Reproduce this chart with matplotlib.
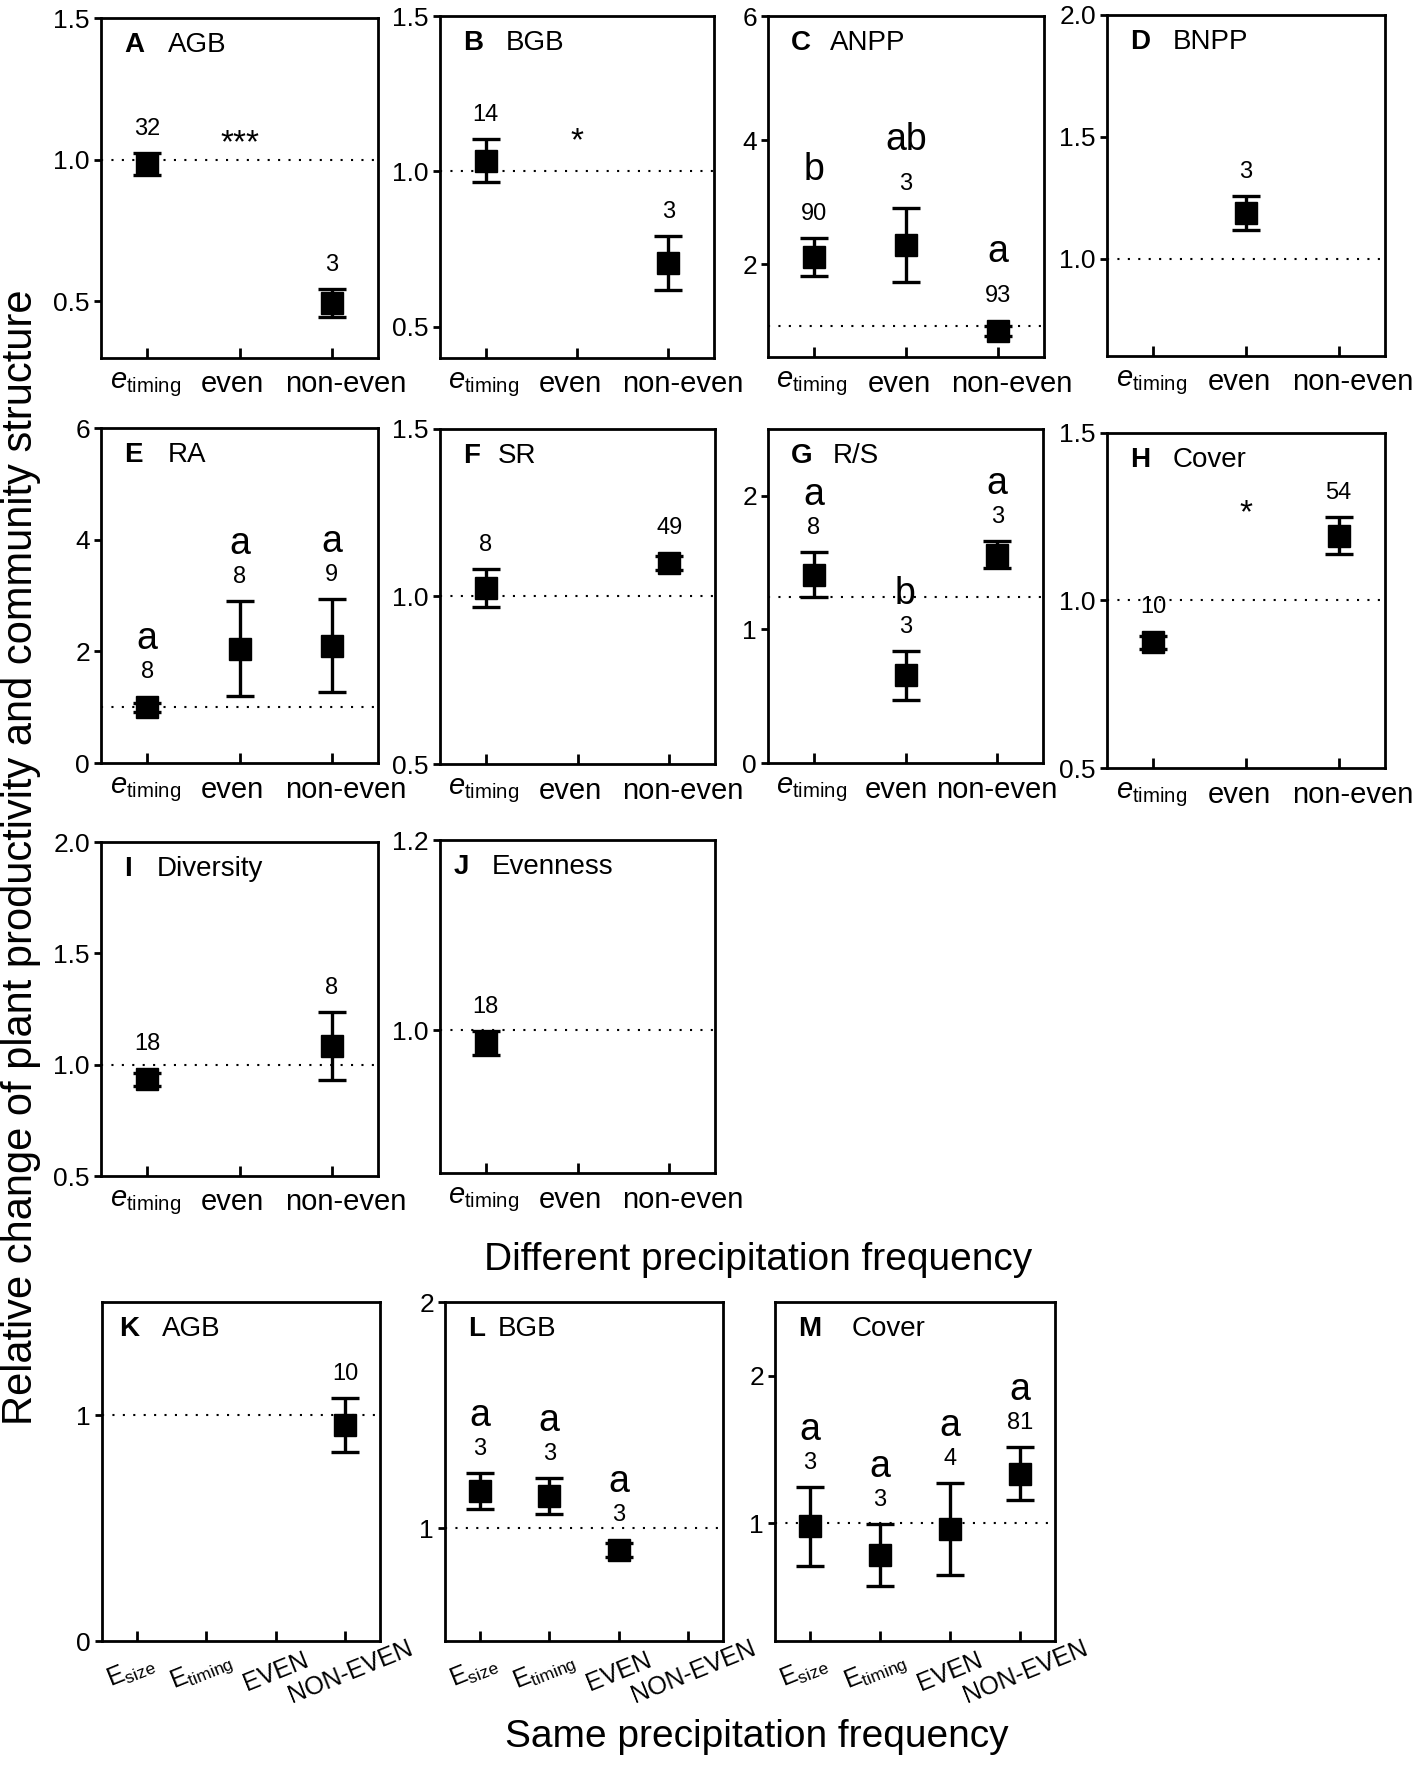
import numpy as np
import matplotlib
matplotlib.use('Agg')
import matplotlib.pyplot as plt
from matplotlib.transforms import ScaledTranslation

plt.rcParams['font.family'] = ['Liberation Sans', 'DejaVu Sans']
plt.rcParams['mathtext.fontset'] = 'custom'
plt.rcParams['mathtext.rm'] = 'Liberation Sans'
plt.rcParams['mathtext.it'] = 'Liberation Sans:italic'
plt.rcParams['mathtext.bf'] = 'Liberation Sans:bold'

nan = np.nan

# categories
cats_diff = [r'$e_{\mathrm{timing}}$', 'even', 'non-even']
cats_same = [r'$\mathrm{E}_{\mathrm{size}}$', r'$\mathrm{E}_{\mathrm{timing}}$', 'EVEN', 'NON-EVEN']

# different precipitation frequency: e_timing, even, non-even
agb_mean = [0.985, nan, 0.495]
agb_err = [0.04, nan, 0.05]
agb_n = ['32', '', '3']

bgb_mean = [1.035, nan, 0.705]
bgb_err = [0.07, nan, 0.086]
bgb_n = ['14', '', '3']

anpp_mean = [2.11, 2.31, 0.92]
anpp_err = [0.31, 0.60, 0.08]
anpp_n = ['90', '3', '93']
anpp_sig = ['b', 'ab', 'a']

bnpp_mean = [nan, 1.187, nan]
bnpp_err = [nan, 0.071, nan]
bnpp_n = ['', '3', '']

ra_mean = [1.0, 2.05, 2.1]
ra_err = [0.08, 0.85, 0.83]
ra_n = ['8', '8', '9']
ra_sig = ['a', 'a', 'a']

sr_mean = [1.025, nan, 1.10]
sr_err = [0.056, nan, 0.02]
sr_n = ['8', '', '49']

rs_mean = [1.41, 0.655, 1.56]
rs_err = [0.17, 0.18, 0.10]
rs_n = ['8', '3', '3']
rs_sig = ['a', 'b', 'a']

cover_mean = [0.875, nan, 1.194]
cover_err = [0.02, nan, 0.056]
cover_n = ['10', '', '54']

div_mean = [0.934, nan, 1.084]
div_err = [0.03, nan, 0.152]
div_n = ['18', '', '8']

even_mean = [0.9865, nan, nan]
even_err = [0.013, nan, nan]
even_n = ['18', '', '']

# same precipitation frequency: E_size, E_timing, EVEN, NON-EVEN
agb2_mean = [nan, nan, nan, 0.955]
agb2_err = [nan, nan, nan, 0.12]
agb2_n = ['', '', '', '10']

bgb2_mean = [1.163, 1.14, 0.903, nan]
bgb2_err = [0.08, 0.08, 0.03, nan]
bgb2_n = ['3', '3', '3', '']
bgb2_sig = ['a', 'a', 'a', '']

cover2_mean = [0.977, 0.784, 0.961, 1.334]
cover2_err = [0.27, 0.21, 0.31, 0.18]
cover2_n = ['3', '3', '4', '81']
cover2_sig = ['a', 'a', 'a', 'a']

# reference (dotted) lines
ref_lines = {'G': 1.24}

# significance stars between groups: (category index, y, text)
stars = {'A': (1, 1.055, '***'), 'B': (1, 1.097, '*'), 'H': (1, 1.26, '*')}

none3 = ['', '', '']
none4 = ['', '', '', '']

# letter, name, data, rect (left, top, right, bottom px), ylim, yticks, ticklabels, title x
panels = [
    ('A', 'AGB', cats_diff, agb_mean, agb_err, agb_n, none3, (101, 18, 378, 358), (0.3, 1.5), [0.5, 1.0, 1.5], ['0.5', '1.0', '1.5'], 0.24),
    ('B', 'BGB', cats_diff, bgb_mean, bgb_err, bgb_n, none3, (440, 16, 714, 358), (0.4, 1.5), [0.5, 1.0, 1.5], ['0.5', '1.0', '1.5'], 0.24),
    ('C', 'ANPP', cats_diff, anpp_mean, anpp_err, anpp_n, anpp_sig, (768, 16, 1044, 357), (0.5, 6), [2, 4, 6], ['2', '4', '6'], 0.225),
    ('D', 'BNPP', cats_diff, bnpp_mean, bnpp_err, bnpp_n, none3, (1107, 15, 1385, 356), (0.6, 2.0), [1.0, 1.5, 2.0], ['1.0', '1.5', '2.0'], 0.235),
    ('E', 'RA', cats_diff, ra_mean, ra_err, ra_n, ra_sig, (101, 428, 378, 763), (0, 6), [0, 2, 4, 6], ['0', '2', '4', '6'], 0.24),
    ('F', 'SR', cats_diff, sr_mean, sr_err, sr_n, none3, (440, 429, 715, 764), (0.5, 1.5), [0.5, 1.0, 1.5], ['0.5', '1.0', '1.5'], 0.21),
    ('G', 'R/S', cats_diff, rs_mean, rs_err, rs_n, rs_sig, (768, 429, 1043, 763), (0, 2.5), [0, 1, 2], ['0', '1', '2'], 0.235),
    ('H', 'Cover', cats_diff, cover_mean, cover_err, cover_n, none3, (1107, 433, 1385, 768), (0.5, 1.5), [0.5, 1.0, 1.5], ['0.5', '1.0', '1.5'], 0.235),
    ('I', 'Diversity', cats_diff, div_mean, div_err, div_n, none3, (101, 842, 378, 1176), (0.5, 2.0), [0.5, 1.0, 1.5, 2.0], ['0.5', '1.0', '1.5', '2.0'], 0.2),
    ('J', 'Evenness', cats_diff, even_mean, even_err, even_n, none3, (440, 840, 715, 1173), (0.85, 1.2), [1.0, 1.2], ['1.0', '1.2'], 0.19),
    ('K', 'AGB', cats_same, agb2_mean, agb2_err, agb2_n, none4, (102, 1302, 380, 1641), (0, 1.5), [0, 1], ['0', '1'], 0.215),
    ('L', 'BGB', cats_same, bgb2_mean, bgb2_err, bgb2_n, bgb2_sig, (445, 1302, 723, 1641), (0.5, 2.0), [1, 2], ['1', '2'], 0.19),
    ('M', 'Cover', cats_same, cover2_mean, cover2_err, cover2_n, cover2_sig, (775, 1302, 1055, 1641), (0.2, 2.5), [1, 2], ['1', '2'], 0.275),
]
letter_x = {'J': 0.05, 'K': 0.06}
# horizontal nudges of the category labels (pixels)
shift3 = [-2, -7, 14]
shift4 = [-6, -5, 0, 5]
shift_panel = {'G': [-2, -9, 0]}

W, H = 1417, 1769
fig = plt.figure(figsize=(W / 100, H / 100), dpi=100)

for key, name, cats, mean, err, nlab, sig, rect, ylim, yt, ytl, tx in panels:
    l, t, r, b = rect
    ax = fig.add_axes([l / W, 1 - b / H, (r - l) / W, (b - t) / H])
    x = np.arange(len(cats))
    mean = np.array(mean)
    err = np.array(err)
    ax.set_xlim(-0.5, len(cats) - 0.5)
    ax.set_ylim(*ylim)
    ax.axhline(ref_lines.get(key, 1.0), color='black', lw=1.5, ls=(0, (1, 4)), zorder=1)
    ok = np.isfinite(mean)
    ax.errorbar(x[ok], mean[ok], yerr=err[ok], fmt='s', color='black', ms=16,
                lw=2.4, capsize=10, capthick=2.4, zorder=3)

    gap = 44 if key == 'C' else 33
    for xi, m, e, nl, sl in zip(x, mean, err, nlab, sig):
        if not nl:
            continue
        p0 = ax.transData.transform((xi, m))
        p1 = ax.transData.transform((xi, m + e))
        top = max(p1[1] - p0[1], 11)
        ax.annotate(nl, (xi, m), xytext=(0, top + 24), textcoords='offset pixels',
                    ha='center', va='center', fontsize=17)
        if sl:
            ax.annotate(sl, (xi, m), xytext=(0, top + 24 + gap), textcoords='offset pixels',
                        ha='center', va='center', fontsize=27)
    if key in stars:
        si, sy, st = stars[key]
        ax.text(si, sy, st, ha='center', va='center', fontsize=24)

    ax.text(letter_x.get(key, 0.083), 0.92, key, transform=ax.transAxes, fontsize=20,
            fontweight='bold', va='center', ha='left')
    ax.text(tx, 0.92, name, transform=ax.transAxes, fontsize=20, va='center', ha='left')

    ax.set_yticks(yt)
    ax.set_yticklabels(ytl)
    ax.set_xticks(x)
    ax.set_xticklabels(cats)
    for s in ax.spines.values():
        s.set_linewidth(2)
    ax.tick_params(axis='y', direction='out', length=5, width=2, pad=3, labelsize=19)
    if len(cats) == 3:
        ax.tick_params(axis='x', direction='in', length=7, width=2, pad=9, labelsize=21)
        shifts = shift_panel.get(key, shift3)
    else:
        ax.tick_params(axis='x', direction='in', length=7, width=2, pad=22, labelsize=18)
        for lab in ax.get_xticklabels():
            lab.set_rotation(22)
            lab.set_va('center')
            lab.set_ha('center')
        shifts = shift4
    for lab, dx in zip(ax.get_xticklabels(), shifts):
        lab.set_transform(lab.get_transform() + ScaledTranslation(dx / 100, 0, fig.dpi_scale_trans))

fig.text(0.0145, 0.5155, 'Relative change of plant productivity and community structure',
         rotation=90, ha='center', va='center', fontsize=30)
fig.text(0.535, 0.2877, 'Different precipitation frequency', ha='center', va='center', fontsize=28)
fig.text(0.534, 0.018, 'Same precipitation frequency', ha='center', va='center', fontsize=28)

fig.savefig('out.png', dpi=100)
